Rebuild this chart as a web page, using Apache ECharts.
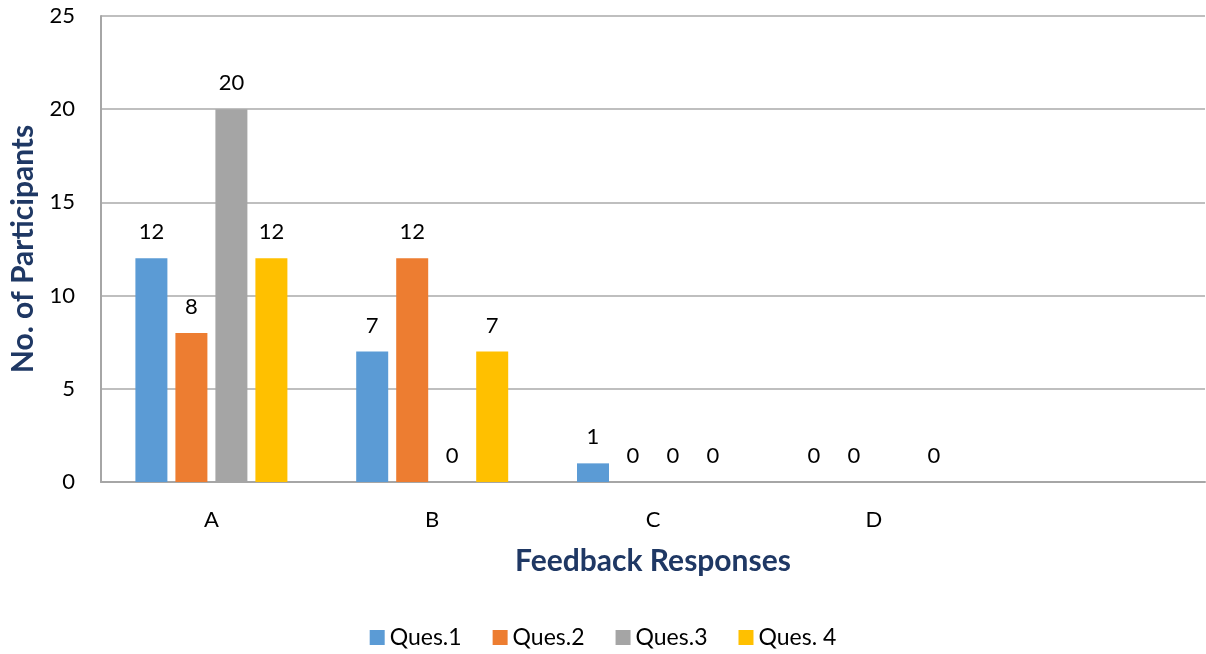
<!DOCTYPE html>
<html>
<head>
<meta charset="utf-8">
<script src="https://cdn.jsdelivr.net/npm/echarts@6/dist/echarts.min.js"></script>
<style>
  html, body { margin: 0; padding: 0; background: #fff; }
  #chart { width: 1206px; height: 654px; }
</style>
</head>
<body>
<div id="chart"></div>
<script>
// ============================= 数据 =============================
const categories = ['A', 'B', 'C', 'D', ''];
const ques1 = [12, 7, 1, 0, null];
const ques2 = [8, 12, 0, 0, null];
const ques3 = [20, 0, 0, null, null];
const ques4 = [12, 7, 0, 0, null];
const seriesNames = ['Ques.1', 'Ques.2', 'Ques.3', 'Ques. 4'];
const yTicks = { min: 0, max: 25, interval: 5 };

const font = 'Lato, "Open Sans", sans-serif';
const navy = '#1F3864';

// ============================= 配置 =============================
function makeBar(name, data) {
    return {
        name: name,
        type: 'bar',
        data: data,
        barWidth: 32,
        barGap: '25%',
        label: {
            show: true,
            position: 'top',
            distance: 15,
            color: '#000',
            fontFamily: font,
            fontSize: 22
        }
    };
}

let option = {
    animation: false,
    color: ['#5B9BD5', '#ED7D31', '#A5A5A5', '#FFC000'],
    grid: { left: 101, right: 1, top: 16, bottom: 172, outerBoundsMode: 'none' },
    legend: {
        top: 621,
        left: 'center',
        icon: 'rect',
        itemWidth: 15,
        itemHeight: 15,
        itemGap: 31,
        textStyle: { fontFamily: font, fontSize: 23, color: '#000' },
        data: seriesNames
    },
    xAxis: {
        type: 'category',
        data: categories,
        name: 'Feedback Responses',
        nameLocation: 'middle',
        nameGap: 64,
        nameTextStyle: { fontFamily: font, fontSize: 30, fontWeight: 'bold', color: navy },
        axisLine: { lineStyle: { color: '#A6A6A6', width: 2 } },
        axisTick: { show: false },
        axisLabel: { margin: 27, fontFamily: font, fontSize: 22, color: '#000' }
    },
    yAxis: {
        type: 'value',
        min: yTicks.min,
        max: yTicks.max,
        interval: yTicks.interval,
        name: 'No. of Participants',
        nameLocation: 'middle',
        nameGap: 63,
        nameTextStyle: { fontFamily: font, fontSize: 30, fontWeight: 'bold', color: navy },
        axisLine: { show: true, lineStyle: { color: '#A6A6A6', width: 2 } },
        axisTick: { show: false },
        axisLabel: { margin: 26, fontFamily: font, fontSize: 22, color: '#000' },
        splitLine: { lineStyle: { color: '#BFBFBF', width: 2 } }
    },
    series: [
        makeBar(seriesNames[0], ques1),
        makeBar(seriesNames[1], ques2),
        makeBar(seriesNames[2], ques3),
        makeBar(seriesNames[3], ques4)
    ]
};

echarts.init(document.getElementById('chart')).setOption(option);
</script>
</body>
</html>
